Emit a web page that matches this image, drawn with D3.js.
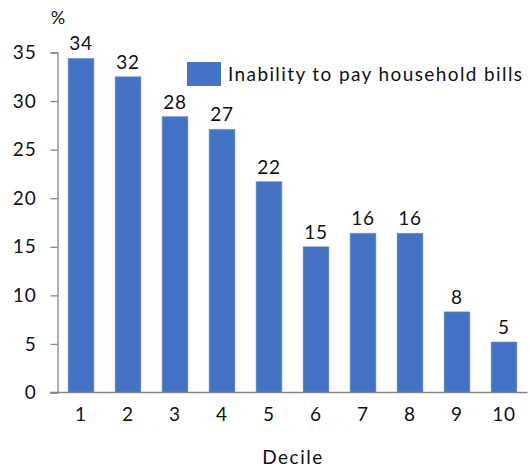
<!DOCTYPE html>
<html><head><meta charset="utf-8">
<script src="https://cdn.jsdelivr.net/npm/d3@7"></script>
<style>body{margin:0;background:#fff}svg{display:block}</style>
</head><body>
<script>
const deciles = ["1","2","3","4","5","6","7","8","9","10"];
const values = [34.4, 32.5, 28.4, 27.1, 21.7, 15.0, 16.4, 16.4, 8.3, 5.2];
const labels = ["34","32","28","27","22","15","16","16","8","5"];
const yTicks = [0,5,10,15,20,25,30,35];
const seriesName = "Inability to pay household bills";

const W = 530, H = 468;
const font = "Lato, 'Open Sans', sans-serif";
const svg = d3.select("body").append("svg").attr("width", W).attr("height", H);
const x = d3.scaleBand().domain(deciles).range([57.5, 527.5]).paddingInner(0.45).paddingOuter(0.225);
const y = d3.scaleLinear().domain([0, 35]).range([392.5, 52.5]);

svg.selectAll("rect.bar").data(values).join("rect").attr("class","bar")
  .attr("x", (d,i) => x(deciles[i])).attr("width", x.bandwidth())
  .attr("y", d => y(d)).attr("height", d => y(0) - y(d))
  .attr("fill", "#4472C4").attr("stroke", "#7a9ad6").attr("stroke-width", 0.6);

const ya = svg.append("g").attr("transform", "translate(57.5,0)")
  .call(d3.axisLeft(y).tickValues(yTicks).tickSize(7).tickPadding(14));
const xa = svg.append("g").attr("transform", "translate(0,392.5)")
  .call(d3.axisBottom(x).tickSize(0).tickPadding(12));
xa.select(".domain").attr("d", "M50,0H527.5");
[ya, xa].forEach(g => {
  g.selectAll(".domain, line").attr("stroke", "#868686").attr("stroke-width", 1.3);
  g.selectAll("text").attr("font-family", font).attr("font-size", 19).attr("fill", "#111")
    .attr("letter-spacing", 0.8);
});
xa.selectAll("text").attr("dy", "0.85em");

svg.selectAll("text.val").data(values).join("text").attr("class","val")
  .attr("x", (d,i) => x(deciles[i]) + x.bandwidth()/2).attr("y", d => y(d) - 8)
  .attr("text-anchor", "middle").attr("font-family", font).attr("font-size", 19).attr("fill", "#111")
  .attr("letter-spacing", 0.8)
  .text((d,i) => labels[i]);

svg.append("text").attr("x", 58).attr("y", 24).attr("text-anchor","middle")
  .attr("font-family", font).attr("font-size", 18).attr("fill", "#111").text("%");
svg.append("text").attr("x", 293).attr("y", 464).attr("text-anchor","middle")
  .attr("font-family", font).attr("font-size", 19).attr("fill", "#111")
  .attr("letter-spacing", 1.5).text("Decile");

const lg = svg.append("g");
lg.append("rect").attr("x", 187).attr("y", 62).attr("width", 34).attr("height", 24).attr("fill", "#4472C4");
lg.append("text").attr("x", 228).attr("y", 81).attr("font-family", font).attr("font-size", 19)
  .attr("fill", "#111").attr("textLength", 294).attr("lengthAdjust", "spacing").text(seriesName);
</script>
</body></html>
